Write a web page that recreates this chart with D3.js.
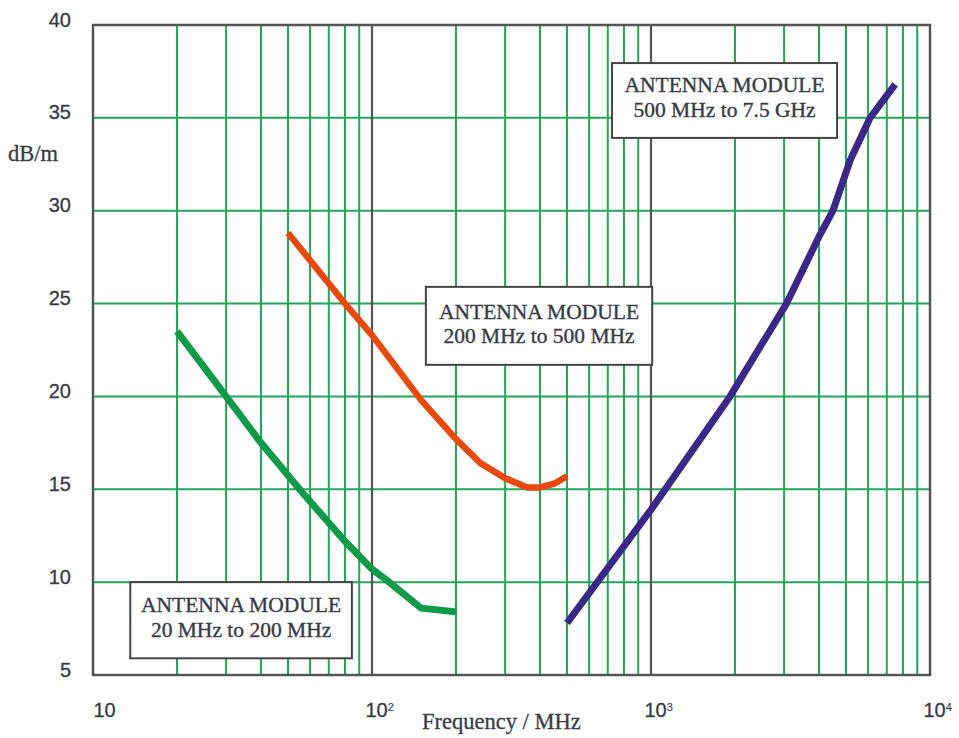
<!DOCTYPE html>
<html>
<head>
<meta charset="utf-8">
<script src="https://cdn.jsdelivr.net/npm/d3@7"></script>
<style>
  html, body { margin: 0; padding: 0; background: #fff; }
  svg { display: block; }
</style>
</head>
<body>
<svg id="chart" width="959" height="738"></svg>
<script>
// ---- data ----
const freqDomain = [10, 10000];
const levelDomain = [5, 40];
const xTickValues = [10, 100, 1000, 10000];
const xTickExponents = ["", "2", "3", "4"];
const yTickValues = [5, 10, 15, 20, 25, 30, 35, 40];

const module1Freq  = [20, 30, 40, 55, 62, 80, 100, 113, 150, 200];
const module1Level = [23.5, 20, 17.5, 15, 14.1, 12.2, 10.7, 10.1, 8.6, 8.4];

const module2Freq  = [50, 80, 100, 150, 200, 245, 300, 360, 400, 450, 500];
const module2Level = [28.8, 25, 23.3, 19.8, 17.7, 16.4, 15.6, 15.1, 15.1, 15.3, 15.7];

const module3Freq  = [500, 1000, 1920, 3060, 4000, 4490, 5170, 6100, 7500];
const module3Level = [7.8, 13.9, 20, 25, 28.6, 30, 32.7, 35, 36.8];

const labelTitles = ["ANTENNA MODULE", "ANTENNA MODULE", "ANTENNA MODULE"];
const labelRanges = ["20 MHz to 200 MHz", "200 MHz to 500 MHz", "500 MHz to 7.5 GHz"];

const yAxisTitle = "dB/m";
const xAxisTitle = "Frequency / MHz";

// ---- layout ----
const svg = d3.select("#chart");
const plotLeft = 93, plotRight = 930, plotTop = 25, plotBottom = 675;

const x = d3.scaleLog().domain(freqDomain).range([plotLeft, plotRight]);
const y = d3.scaleLinear().domain(levelDomain).range([plotBottom, plotTop]);

const gridGreen = "#22a757";
const frameGray = "#555";
const textColor = "#383a44";
const serif = "Liberation Serif, Times New Roman, serif";
const sans = "Liberation Sans, Arial, sans-serif";

// vertical grid
const allFreqTicks = x.ticks();
const isDecade = f => Math.abs(Math.log10(f) - Math.round(Math.log10(f))) < 1e-9;

svg.append("g").selectAll("line")
  .data(allFreqTicks.filter(f => !isDecade(f)))
  .join("line")
  .attr("x1", d => x(d)).attr("x2", d => x(d))
  .attr("y1", plotTop).attr("y2", plotBottom)
  .attr("stroke", gridGreen).attr("stroke-width", 2);

// horizontal grid
svg.append("g").selectAll("line")
  .data(yTickValues.filter(v => v > levelDomain[0] && v < levelDomain[1]))
  .join("line")
  .attr("x1", plotLeft).attr("x2", plotRight)
  .attr("y1", d => y(d)).attr("y2", d => y(d))
  .attr("stroke", gridGreen).attr("stroke-width", 2);

// decade lines
svg.append("g").selectAll("line")
  .data(allFreqTicks.filter(f => isDecade(f) && f > freqDomain[0] && f < freqDomain[1]))
  .join("line")
  .attr("x1", d => x(d)).attr("x2", d => x(d))
  .attr("y1", plotTop).attr("y2", plotBottom)
  .attr("stroke", frameGray).attr("stroke-width", 2.2);

// frame
svg.append("rect")
  .attr("x", plotLeft).attr("y", plotTop)
  .attr("width", plotRight - plotLeft).attr("height", plotBottom - plotTop)
  .attr("fill", "none").attr("stroke", frameGray).attr("stroke-width", 2.5);

// axes
const yAxis = svg.append("g")
  .attr("transform", `translate(${plotLeft},0)`)
  .call(d3.axisLeft(y).tickValues(yTickValues).tickSize(0).tickPadding(22));
yAxis.select(".domain").remove();
yAxis.selectAll("text")
  .attr("font-family", sans)
  .attr("font-size", 20)
  .attr("fill", textColor)
  .attr("stroke", textColor).attr("stroke-width", 0.3)
  .attr("dy", "0.05em");

const xAxis = svg.append("g")
  .attr("transform", `translate(0,${plotBottom})`)
  .call(d3.axisBottom(x).tickValues(xTickValues).tickSize(0).tickPadding(28).tickFormat(() => "10"));
xAxis.select(".domain").remove();
xAxis.selectAll("text")
  .attr("font-family", sans)
  .attr("font-size", 20)
  .attr("fill", textColor)
  .attr("stroke", textColor).attr("stroke-width", 0.3)
  .attr("text-anchor", "start")
  .attr("dx", (d, i) => i === 0 ? 0 : -7)
  .each(function(d, i) {
    if (xTickExponents[i]) {
      d3.select(this).append("tspan")
        .attr("dy", "-0.55em")
        .attr("font-size", 11)
        .attr("stroke-width", 0.1)
        .text(xTickExponents[i]);
    }
  });

// axis titles
svg.append("text")
  .attr("x", 8).attr("y", 161)
  .attr("font-family", serif)
  .attr("font-size", 22.5)
  .attr("fill", textColor)
  .attr("stroke", textColor).attr("stroke-width", 0.3)
  .text(yAxisTitle);

svg.append("text")
  .attr("x", 422).attr("y", 729)
  .attr("font-family", serif)
  .attr("font-size", 22.5)
  .attr("fill", textColor)
  .attr("stroke", textColor).attr("stroke-width", 0.3)
  .text(xAxisTitle);

// curves
const series = [
  { f: module1Freq, v: module1Level, color: "#0f9a48", w: 7 },
  { f: module2Freq, v: module2Level, color: "#e9490c", w: 6.5 },
  { f: module3Freq, v: module3Level, color: "#3b2787", w: 7 }
];
const line = d3.line().x(d => x(d[0])).y(d => y(d[1]));
svg.append("g").selectAll("path")
  .data(series)
  .join("path")
  .attr("d", s => line(s.f.map((f, i) => [f, s.v[i]])))
  .attr("fill", "none")
  .attr("stroke", s => s.color)
  .attr("stroke-width", s => s.w)
  .attr("stroke-linejoin", "round")
  .attr("stroke-linecap", "butt");

// label boxes (anchored in data space: freq of left/right edges, level of top/bottom)
const boxFreqLeft  = [13.6, 156, 725];
const boxFreqRight = [84.7, 1010, 4645];
const boxLevelTop  = [10.0, 25.9, 37.95];
const boxLevelBot  = [5.9, 21.7, 33.92];
const boxLine1Off  = [30, 32, 29];
const boxLine2Off  = [54.5, 56.5, 53.5];

const boxes = svg.append("g").selectAll("g")
  .data(labelTitles.map((t, i) => ({ t, r: labelRanges[i], i })))
  .join("g");

boxes.append("rect")
  .attr("x", d => x(boxFreqLeft[d.i]))
  .attr("y", d => y(boxLevelTop[d.i]))
  .attr("width", d => x(boxFreqRight[d.i]) - x(boxFreqLeft[d.i]))
  .attr("height", d => y(boxLevelBot[d.i]) - y(boxLevelTop[d.i]))
  .attr("fill", "#fff")
  .attr("stroke", "#444")
  .attr("stroke-width", 2);

boxes.append("text")
  .attr("x", d => (x(boxFreqLeft[d.i]) + x(boxFreqRight[d.i])) / 2)
  .attr("y", d => y(boxLevelTop[d.i]) + boxLine1Off[d.i])
  .attr("text-anchor", "middle")
  .attr("font-family", serif)
  .attr("font-size", 21.5)
  .attr("fill", textColor)
  .attr("stroke", textColor).attr("stroke-width", 0.35)
  .text(d => d.t);

boxes.append("text")
  .attr("x", d => (x(boxFreqLeft[d.i]) + x(boxFreqRight[d.i])) / 2)
  .attr("y", d => y(boxLevelTop[d.i]) + boxLine2Off[d.i])
  .attr("text-anchor", "middle")
  .attr("font-family", serif)
  .attr("font-size", 21.5)
  .attr("fill", textColor)
  .attr("stroke", textColor).attr("stroke-width", 0.35)
  .text(d => d.r);
</script>
</body>
</html>
